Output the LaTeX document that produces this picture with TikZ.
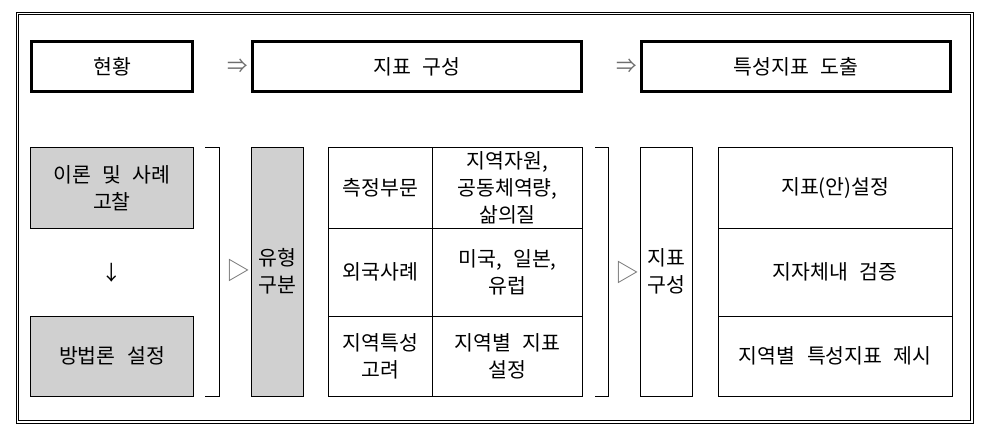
\documentclass[tikz,border=0pt]{standalone}
\usepackage{fontspec}
\setmainfont{Noto Sans CJK KR}[WordSpace=2.5]
\definecolor{boxgray}{RGB}{208,208,208}
\definecolor{symgray}{RGB}{110,110,110}
\begin{document}
\begin{tikzpicture}[x=1pt,y=-1pt,
  every node/.style={font=\fontsize{20.5}{27}\selectfont, inner sep=0pt, align=center},
  topbox/.style={draw, line width=3pt, minimum height=50pt},
  graybox/.style={draw, line width=0.8pt, fill=boxgray},
  cell/.style={draw, line width=0.8pt},
  sym/.style={text=symgray},
  trisym/.style={text=symgray, font=\fontsize{24}{27}\selectfont},
  frameline/.style={line width=0.9pt}]
\useasboundingbox (0,0) rectangle (991,433);
% outer double frame
\draw[frameline] (16.3,12.5) rectangle (973.2,423.2);
\draw[frameline] (18.8,14.8) rectangle (970.2,420.8);
% top row
\node[topbox, minimum width=161pt] (cur) at (112,66.7) {현황};
\node[topbox, minimum width=328.7pt] (comp) at (416.7,66.7) {지표 구성};
\node[topbox, minimum width=309pt] (derive) at (796.2,66.7) {특성지표 도출};
\node[sym] (ar1) at (238,66) {⇒};
\node[sym] (ar2) at (627,66) {⇒};
% left gray boxes
\node[graybox, minimum width=162.6pt, minimum height=81pt] (theory) at (112,187.8) {이론 및 사례\\고찰};
\node[graybox, minimum width=162.6pt, minimum height=79.3pt] (method) at (112,356.3) {방법론 설정};
\node (down) at (112,273) {↓};
% bracket 1
\draw[line width=0.8pt] (205,147.3) -- (219.3,147.3) -- (219.3,396) -- (205,396);
\node[trisym] (tri1) at (238.5,270) {▷};
\node[graybox, minimum width=52.3pt, minimum height=248.7pt] (type) at (277.2,271.7) {유형\\구분};
% middle table
\node[cell, minimum width=104.4pt, minimum height=81pt] (m11) at (380.5,187.8) {측정부문};
\node[cell, minimum width=149.6pt, minimum height=81pt] (m12) at (507.5,187.8) {지역자원,\\공동체역량,\\삶의질};
\node[cell, minimum width=104.4pt, minimum height=87.7pt] (m21) at (380.5,272.15) {외국사례};
\node[cell, minimum width=149.6pt, minimum height=87.7pt] (m22) at (507.5,272.15) {미국, 일본,\\유럽};
\node[cell, minimum width=104.4pt, minimum height=80pt] (m31) at (380.5,356) {지역특성\\고려};
\node[cell, minimum width=149.6pt, minimum height=80pt] (m32) at (507.5,356) {지역별 지표\\설정};
% bracket 2
\draw[line width=0.8pt] (595,147.3) -- (608.3,147.3) -- (608.3,396) -- (595,396);
\node[trisym] (tri2) at (627.5,272) {▷};
\node[cell, minimum width=51.7pt, minimum height=248.7pt] (idx) at (666.5,271.7) {지표\\구성};
% right table
\node[cell, minimum width=234pt, minimum height=81pt] (r1) at (835.3,187.8) {지표(안)설정};
\node[cell, minimum width=234pt, minimum height=87.7pt] (r2) at (835.3,272.15) {지자체내 검증};
\node[cell, minimum width=234pt, minimum height=80pt] (r3) at (835.3,356) {지역별 특성지표 제시};
\end{tikzpicture}
\end{document}
